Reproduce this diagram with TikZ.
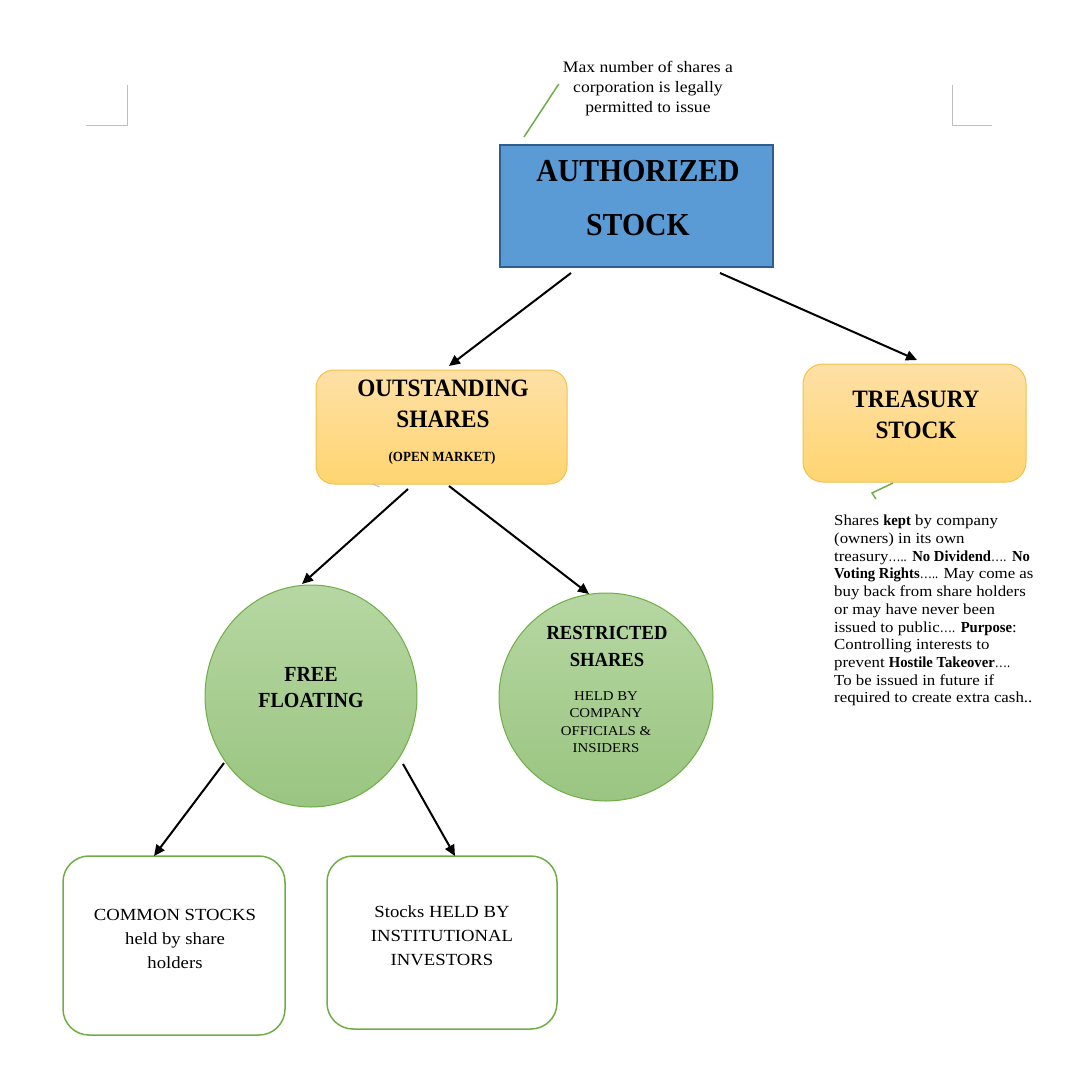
\documentclass[tikz,border=0pt]{standalone}
\usepackage{fontspec}
\setmainfont{Liberation Serif}[FakeStretch=0.93]
\newfontfamily\regf{Liberation Serif}[FakeStretch=1.1, BoldFeatures={FakeStretch=0.96}]
\newfontfamily\dotf{Liberation Serif}[FakeStretch=0.8]
\newcommand\dotrun[1]{{\dotf #1}}
\usetikzlibrary{arrows.meta,shapes.geometric}
\definecolor{authblue}{HTML}{5B9BD5}
\definecolor{authedge}{HTML}{2F5E8E}
\definecolor{orgtop}{HTML}{FEE0A6}
\definecolor{orgbot}{HTML}{FFD570}
\definecolor{orgedge}{HTML}{F2C14E}
\definecolor{grntop}{HTML}{B6D7A2}
\definecolor{grnbot}{HTML}{9AC581}
\definecolor{grnedge}{HTML}{70AD47}
\definecolor{markgray}{HTML}{BFBFBF}
\tikzset{
  arr/.style={line width=2pt, -{Triangle[length=11pt,width=10pt]}},
  callout/.style={draw=grnedge, line width=1.5pt},
  orgbox/.style={rounded corners=18pt, draw=orgedge, line width=1pt, top color=orgtop, bottom color=orgbot, inner sep=0, outer sep=0},
  grnball/.style={ellipse, draw=grnedge, line width=1pt, top color=grntop, bottom color=grnbot, inner sep=0, outer sep=0},
  whitebox/.style={rounded corners=26pt, draw=grnedge, line width=1.5pt, fill=white, inner sep=0, outer sep=0},
  headtxt/.style={align=center, inner sep=0},
  regtxt/.style={align=center, inner sep=0}
}
\begin{document}
\begin{tikzpicture}[x=1pt,y=-1pt]
\useasboundingbox[fill=white] (0,0) rectangle (1079,1087);
% page corner marks
\draw[markgray, line width=1pt] (127,85) -- (127,125) -- (86,125);
\draw[markgray, line width=1pt] (952,85) -- (952,125) -- (992,125);
% shapes
\node[draw=authedge, fill=authblue, line width=1.5pt, minimum width=273pt, minimum height=122pt, inner sep=0, outer sep=0] (auth) at (636.5,206) {};
\node[orgbox, minimum width=251pt, minimum height=114pt] (out) at (441.5,427) {};
\node[orgbox, rounded corners=20pt, minimum width=223pt, minimum height=118pt] (tre) at (914.5,423) {};
\node[grnball, minimum width=212pt, minimum height=222pt] (ff) at (311,696) {};
\node[grnball, minimum width=214pt, minimum height=208pt] (rs) at (606,697) {};
\node[whitebox, minimum width=222pt, minimum height=179pt] (cs) at (174,945.5) {};
\node[whitebox, minimum width=230pt, minimum height=173pt] (inst) at (442,942.5) {};
% texts
\node[regtxt, font=\regf\fontsize{16}{20}\selectfont] (note1) at (648,89) {Max number of shares a\\corporation is legally\\permitted to issue};
\node[headtxt, font=\bfseries\fontsize{32}{54}\selectfont] (authtxt) at (638,198) {AUTHORIZED\\STOCK};
\node[headtxt, font=\bfseries\fontsize{25}{31}\selectfont] (outtxt) at (443,403.5) {OUTSTANDING\\SHARES};
\node[headtxt, font=\bfseries\fontsize{14}{16}\selectfont] (outsub) at (442,458) {(OPEN MARKET)};
\node[headtxt, font=\bfseries\fontsize{25}{31}\selectfont] (tretxt) at (916,414.5) {TREASURY\\STOCK};
\node[headtxt, font=\bfseries\fontsize{21.5}{26}\selectfont] (fftxt) at (311,688) {FREE\\FLOATING};
\node[headtxt, font=\bfseries\fontsize{20}{27}\selectfont] (rstxt) at (607,646.5) {RESTRICTED\\SHARES};
\node[regtxt, font=\regf\fontsize{13.5}{17.4}\selectfont] (rssub) at (606,722) {HELD BY\\COMPANY\\OFFICIALS \&\\INSIDERS};
\node[regtxt, font=\regf\fontsize{17}{24}\selectfont] (cstxt) at (175,939) {COMMON STOCKS\\held by share\\holders};
\node[regtxt, font=\regf\fontsize{17}{24}\selectfont] (insttxt) at (442,936) {Stocks HELD BY\\INSTITUTIONAL\\INVESTORS};
\node[anchor=north west, align=left, inner sep=0, font=\regf\fontsize{15.3}{17.7}\selectfont] (desc) at (834,515) {Shares \textbf{kept} by company\\(owners) in its own\\treasury\dotrun{…..} \textbf{No Dividend}\dotrun{….} \textbf{No}\\\textbf{Voting Rights}\dotrun{…..} May come as\\buy back from share holders\\or may have never been\\issued to public\dotrun{….} \textbf{Purpose}:\\Controlling interests to\\prevent \textbf{Hostile Takeover}\dotrun{….}\\To be issued in future if\\required to create extra cash..};
% callouts
\draw[callout] ([shift={(24,-8)}]auth.north west) -- ([shift={(-4,-5)}]note1.west);
\draw[callout] ([shift={(-21.5,1)}]tre.south) -- ++(-21,10) -- ++(4,6);
\draw[markgray, line width=1pt] ([shift={(-69,0)}]out.south) -- ++(7,3);
% arrows
\draw[arr] ([shift={(-65.5,6)}]auth.south) -- ([shift={(7.5,-4)}]out.north);
\draw[arr] ([shift={(83.5,6)}]auth.south) -- ([shift={(2.5,-4)}]tre.north);
\draw[arr] ([shift={(-33.5,5)}]out.south) -- ([shift={(-9,-1)}]ff.north);
\draw[arr] ([shift={(7.5,2)}]out.south) -- ([shift={(-17,1)}]rs.north);
\draw[arr] ([shift={(-87,67)}]ff.center) -- ([shift={(-20,0)}]cs.north);
\draw[arr] ([shift={(92,68)}]ff.center) -- ([shift={(13,0)}]inst.north);
\end{tikzpicture}
\end{document}
